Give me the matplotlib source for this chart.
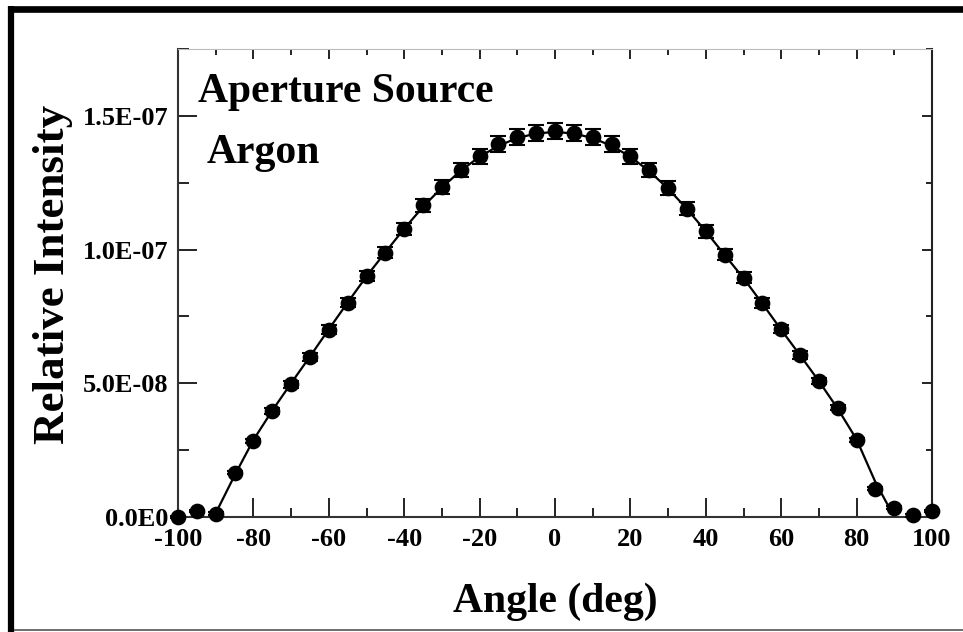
import matplotlib
matplotlib.use("Agg")
import matplotlib.pyplot as plt
from matplotlib.lines import Line2D
from matplotlib.ticker import MultipleLocator

# measured angular distribution, intensity in units of 1e-8
angle = [-100, -95, -90, -85, -80, -75, -70, -65, -60, -55, -50,
         -45, -40, -35, -30, -25, -20, -15, -10, -5, 0,
         5, 10, 15, 20, 25, 30, 35, 40, 45, 50,
         55, 60, 65, 70, 75, 80, 85, 90, 95, 100]
intensity = [0.00, 0.22, 0.13, 1.65, 2.84, 3.96, 4.96, 5.98, 7.01, 8.02, 9.01,
             9.89, 10.78, 11.65, 12.34, 12.97, 13.49, 13.94, 14.21, 14.36, 14.44,
             14.36, 14.21, 13.94, 13.49, 12.97, 12.30, 11.53, 10.68, 9.81, 8.95,
             8.00, 7.03, 6.06, 5.09, 4.09, 2.87, 1.06, 0.35, 0.06, 0.22]
err = [0.05, 0.05, 0.05, 0.06, 0.08, 0.10, 0.12, 0.14, 0.16, 0.18, 0.20,
       0.21, 0.23, 0.25, 0.26, 0.27, 0.28, 0.29, 0.29, 0.30, 0.30,
       0.30, 0.29, 0.29, 0.28, 0.27, 0.26, 0.25, 0.23, 0.21, 0.20,
       0.18, 0.16, 0.14, 0.12, 0.10, 0.08, 0.06, 0.05, 0.05, 0.05]

# fitted curve
fit_angle = [-90.5, -85, -80, -75, -70, -65, -60, -55, -50, -45, -40, -35,
             -30, -25, -20, -15, -10, -5, 0, 5, 10, 15, 20, 25, 30, 35,
             40, 45, 50, 55, 60, 65, 70, 75, 80, 85, 90]
fit_val = [0.0, 1.55, 2.88, 3.98, 5.00, 6.00, 7.02, 8.02, 9.00, 9.90, 10.78, 11.60,
           12.32, 12.95, 13.47, 13.88, 14.17, 14.34, 14.40, 14.34, 14.17, 13.88, 13.47, 12.93, 12.28, 11.52,
           10.68, 9.80, 8.93, 7.98, 7.00, 6.05, 5.08, 4.05, 2.90, 1.30, 0.0]

scale = 1e-8
ytick_vals = [0, 5e-8, 1e-7, 1.5e-7]
ytick_labels = ["0.0E0", "5.0E-08", "1.0E-07", "1.5E-07"]
xtick_vals = [-100, -80, -60, -40, -20, 0, 20, 40, 60, 80, 100]

plt.rcParams['font.family'] = ['Liberation Serif', 'DejaVu Serif']
plt.rcParams['font.weight'] = 'bold'

fig = plt.figure(figsize=(9.63, 6.32), dpi=100)
ax = fig.add_axes([178/963, 1-517/632, 754/963, 468/632])

y = [v*scale for v in intensity]
e = [v*scale for v in err]
fy = [v*scale for v in fit_val]

ax.plot(fit_angle, fy, color='black', lw=1.6, zorder=2)
ax.errorbar(angle, y, yerr=e, fmt='o', color='black', ms=10.3,
            elinewidth=1.5, capsize=5.5, capthick=1.5, zorder=3, clip_on=False)

ax.set_xlim(-100, 100)
ax.set_ylim(0, 1.75e-7)
ax.set_xticks(xtick_vals)
ax.set_xticklabels([str(v) for v in xtick_vals])
ax.xaxis.set_minor_locator(MultipleLocator(10))
ax.set_yticks(ytick_vals)
ax.set_yticklabels(ytick_labels)
ax.yaxis.set_minor_locator(MultipleLocator(2.5e-8))

ax.tick_params(which='both', direction='in', top=False, right=False, width=1.4, color='#222222')
ax.tick_params(which='major', length=14, labelsize=19, pad=7)
ax.tick_params(axis='x', which='major', pad=8)
ax.tick_params(axis='x', which='minor', length=6.5)
ax.tick_params(axis='y', which='minor', length=8)
for lab in ax.get_xticklabels() + ax.get_yticklabels():
    lab.set_fontweight('bold')

for side in ['left', 'bottom']:
    ax.spines[side].set_linewidth(1.5)
    ax.spines[side].set_color('#333333')
ax.spines['top'].set_linewidth(0.8)
ax.spines['top'].set_color('#bbbbbb')
ax.spines['right'].set_linewidth(1.5)
ax.spines['right'].set_color('#222222')

# shorter ticks on the top and right edges
top = ax.secondary_xaxis('top')
top.set_xticks(xtick_vals)
top.xaxis.set_minor_locator(MultipleLocator(10))
top.tick_params(which='both', direction='in', labeltop=False, width=1.4, color='#222222')
top.tick_params(which='major', length=7)
top.tick_params(which='minor', length=4.5)
top.spines['top'].set_visible(False)

right = ax.secondary_yaxis('right')
right.set_yticks(ytick_vals)
right.yaxis.set_minor_locator(MultipleLocator(2.5e-8))
right.tick_params(which='both', direction='in', labelright=False, width=1.4, color='#222222')
right.tick_params(which='major', length=7)
right.tick_params(which='minor', length=4.5)
right.spines['right'].set_visible(False)

ax.text(0.0265, 0.887, "Aperture Source", transform=ax.transAxes,
        fontsize=30, fontweight='bold', va='baseline', ha='left')
ax.text(0.0385, 0.756, "Argon", transform=ax.transAxes,
        fontsize=30, fontweight='bold', va='baseline', ha='left')

fig.text(555/963, 1-612/632, "Angle (deg)", fontsize=30, fontweight='bold',
         ha='center', va='baseline')
fig.text(53.5/963, 1-274/632, "Relative Intensity", fontsize=32.5, fontweight='bold',
         rotation=90, ha='center', va='center')

# frame around the figure
fig.add_artist(Line2D([8/963, 1], [1-9.3/632, 1-9.3/632], transform=fig.transFigure,
                      color='black', lw=4.8, solid_capstyle='butt'))
fig.add_artist(Line2D([11.2/963, 11.2/963], [1-6/632, 0], transform=fig.transFigure,
                      color='black', lw=4.5, solid_capstyle='butt'))
fig.add_artist(Line2D([14/963, 1], [1-630/632, 1-630/632], transform=fig.transFigure,
                      color='#555555', lw=1.2, solid_capstyle='butt'))

fig.savefig("out.png", dpi=100)
